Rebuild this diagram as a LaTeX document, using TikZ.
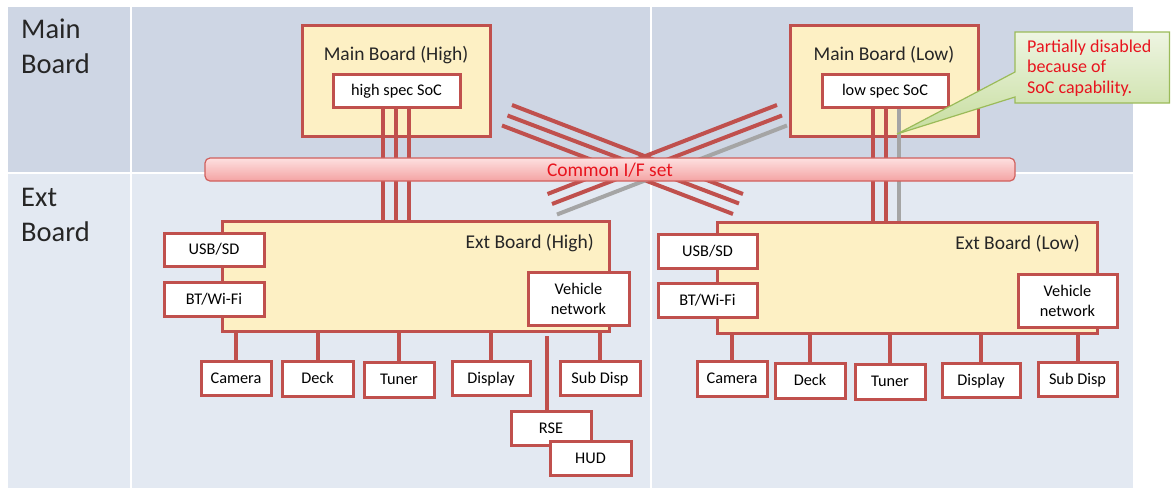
\documentclass[tikz,border=0pt]{standalone}
\usepackage{fontspec}
\setmainfont{Carlito}
\definecolor{bred}{HTML}{C0504D}
\definecolor{byel}{HTML}{FDF0C4}
\definecolor{rowtop}{HTML}{CED6E4}
\definecolor{rowbot}{HTML}{E3E9F2}
\definecolor{gline}{HTML}{A5A5A5}
\definecolor{barT}{HTML}{FDE0E0}
\definecolor{barB}{HTML}{F4A3A3}
\definecolor{barb}{HTML}{D0605D}
\definecolor{tred}{HTML}{E8141E}
\definecolor{gT}{HTML}{EEF5E2}
\definecolor{gB}{HTML}{C6DD9E}
\definecolor{gborder}{HTML}{9BBB59}
\definecolor{headc}{HTML}{262626}
\begin{document}
\begin{tikzpicture}[x=1pt,y=-1pt,
  bd/.style={draw=bred, line width=3pt},
  board/.style={bd, fill=byel, inner sep=0pt},
  sbox/.style={bd, fill=white, inner sep=0pt, font=\fontsize{16.3}{19}\selectfont, text height=10.5pt, text depth=0pt},
  vnbox/.style={bd, fill=white, inner sep=0pt, align=center, font=\fontsize{16.3}{20}\selectfont},
  conn/.style={bred, line width=4pt},
  gconn/.style={gline, line width=4pt},
  lbl/.style={font=\fontsize{19.5}{22}\selectfont, inner sep=0pt, text=headc},
  head/.style={font=\fontsize{28.5}{35}\selectfont, align=left, anchor=north west, inner sep=0pt, text=headc},
]
\useasboundingbox (0,0) rectangle (1171,488);
% table background
\fill[rowtop] (8,7) rectangle (1133,173);
\fill[rowbot] (8,173) rectangle (1133,488);
\draw[white, line width=2pt] (131,7) -- (131,488) (651,7) -- (651,488) (8,173) -- (1133,173);
\node[head] (hMain) at (21,19) {Main\\Board};
\node[head] (hExt) at (21,188.5) {Ext\\Board};

% main boards
\node[board, minimum width=188pt, minimum height=111pt] (mbH) at (396,80.5) {};
\node[lbl, anchor=base] (mbHt) at (396,60) {Main Board (High)};
\node[sbox, minimum width=127pt, minimum height=33pt] (socH) at (396.5,90.5) {high spec SoC};
\node[board, minimum width=188pt, minimum height=111pt] (mbL) at (884,80.5) {};
\node[lbl, anchor=base] (mbLt) at (884,60) {Main Board (Low)};
\node[sbox, minimum width=126pt, minimum height=33pt] (socL) at (885,90.5) {low spec SoC};

% ext boards
\node[board, minimum width=387pt, minimum height=110pt] (ebH) at (415.5,276) {};
\node[lbl, anchor=base east] (ebHt) at (594,248) {Ext Board (High)};
\node[sbox, minimum width=100pt, minimum height=33pt] (usbH) at (214,249.5) {USB/SD};
\node[sbox, minimum width=100pt, minimum height=34pt] (btH) at (214,299) {BT/Wi-Fi};
\node[vnbox, minimum width=101pt, minimum height=53pt] (vnH) at (578.5,298.5) {Vehicle\\network};

\node[board, minimum width=380pt, minimum height=111pt] (ebL) at (907,277.5) {};
\node[lbl, anchor=base east] (ebLt) at (1080,249) {Ext Board (Low)};
\node[sbox, minimum width=99pt, minimum height=34pt] (usbL) at (707.5,251) {USB/SD};
\node[sbox, minimum width=99pt, minimum height=34pt] (btL) at (707.5,300) {BT/Wi-Fi};
\node[vnbox, minimum width=99pt, minimum height=53pt] (vnL) at (1067.5,300.5) {Vehicle\\network};

% SoC to ext board links
\foreach \x in {383,396,409} \draw[conn] (socH.south -| \x,0) -- (ebH.north -| \x,0);
\foreach \x in {873,886} \draw[conn] (socL.south -| \x,0) -- (ebL.north -| \x,0);
\draw[gconn] (socL.south -| 899,0) -- (ebL.north -| 899,0);

% crossing lines (behind the bar)
\coordinate (a1s) at (512,105);   \coordinate (a1e) at (743,194);
\coordinate (a2s) at (507.5,115.5); \coordinate (a2e) at (739,203.5);
\coordinate (a3s) at (502,125.5); \coordinate (a3e) at (733,214);
\coordinate (b1s) at (547.5,194); \coordinate (b1e) at (777,105);
\coordinate (b2s) at (552,204);   \coordinate (b2e) at (782,115.5);
\coordinate (b3s) at (557,214.5); \coordinate (b3e) at (787,125.5);
\draw[conn] (a1s) -- (a1e);
\draw[conn] (a2s) -- (a2e);
\draw[conn] (a3s) -- (a3e);
\draw[conn] (b1s) -- (b1e);
\draw[conn] (b2s) -- (b2e);
\draw[gconn] (b3s) -- (b3e);

% common I/F bar
\node[draw=barb, line width=1.2pt, rounded corners=5pt, top color=barT, bottom color=barB,
      minimum width=810pt, minimum height=23pt, inner sep=0pt] (bar) at (610,169.5) {};
\node[font=\fontsize{19.4}{22}\selectfont, text=tred, anchor=base, inner sep=0pt] (bartxt) at (610,176) {Common I/F set};

% peripherals (High)
\node[sbox, minimum width=70pt, minimum height=34pt] (camH) at (236,378) {Camera};
\node[sbox, minimum width=71pt, minimum height=35pt] (deckH) at (317.5,378.5) {Deck};
\node[sbox, minimum width=70pt, minimum height=35pt] (tunH) at (399,379.5) {Tuner};
\node[sbox, minimum width=78pt, minimum height=34pt] (dispH) at (491,378) {Display};
\node[sbox, minimum width=80pt, minimum height=34pt] (subH) at (600,378) {Sub Disp};
\node[sbox, minimum width=80pt, minimum height=34pt] (rse) at (551,428) {RSE};
\node[sbox, minimum width=81pt, minimum height=34pt] (hud) at (590.5,458) {HUD};
\foreach \n in {camH,deckH,tunH,dispH,subH} \draw[conn] (\n.north) -- (\n.north |- ebH.south);
\coordinate (rsetop) at (547,336);
\draw[conn] (rse.north -| rsetop) -- (rsetop);

% peripherals (Low)
\node[sbox, minimum width=70pt, minimum height=35pt] (camL) at (732,378.5) {Camera};
\node[sbox, minimum width=70pt, minimum height=35pt] (deckL) at (810,380.5) {Deck};
\node[sbox, minimum width=70pt, minimum height=35pt] (tunL) at (890,381.5) {Tuner};
\node[sbox, minimum width=78pt, minimum height=34pt] (dispL) at (981,380) {Display};
\node[sbox, minimum width=79pt, minimum height=34pt] (subL) at (1077.5,379) {Sub Disp};
\foreach \n in {camL,deckL,tunL,dispL,subL} \draw[conn] (\n.north) -- (\n.north |- ebL.south);

% callout
\coordinate (nNW) at (1015,32);
\coordinate (nNE) at (1169.5,32);
\coordinate (nSE) at (1169.5,103);
\coordinate (nSW) at (1015,103);
\coordinate (nB1) at (1015,97);
\coordinate (nB2) at (1015,72);
\coordinate (tip) at (897,134);
\path[draw=gborder, line width=1.2pt, top color=gT, bottom color=gB]
  (nNW) -- (nNE) -- (nSE) -- (nSW) -- (nB1) -- (tip) -- (nB2) -- cycle;
\node[anchor=north west, align=left, font=\fontsize{18}{20.5}\selectfont, text=tred, inner sep=0pt] (note) at (1027,39.5) {Partially disabled\\because of\\SoC capability.};
\end{tikzpicture}
\end{document}
